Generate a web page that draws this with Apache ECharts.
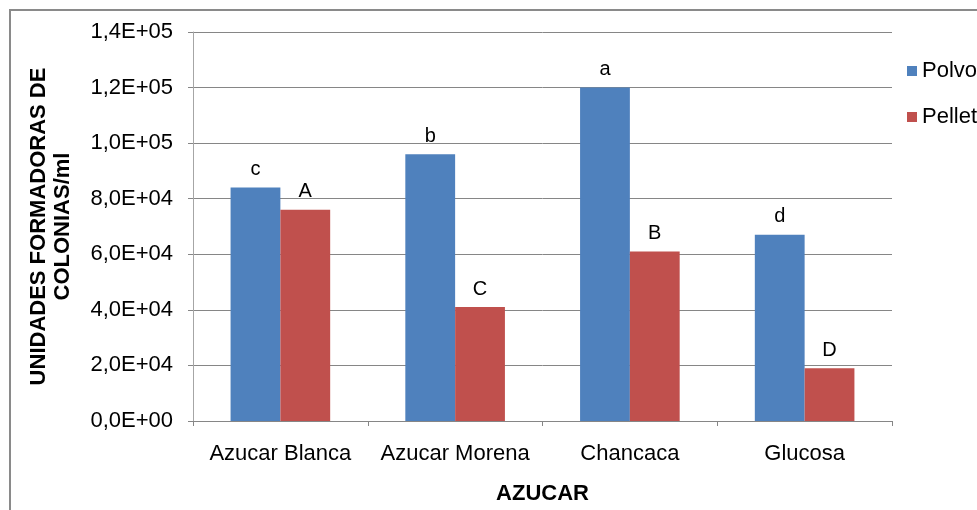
<!DOCTYPE html>
<html>
<head>
<meta charset="utf-8">
<script src="https://cdn.jsdelivr.net/npm/echarts@6/dist/echarts.min.js"></script>
<style>
html,body{margin:0;padding:0;background:#fff;}
#chart{width:977px;height:510px;}
</style>
</head>
<body>
<div id="chart"></div>
<script>
var categories = ['Azucar Blanca', 'Azucar Morena', 'Chancaca', 'Glucosa'];
var polvoValues = [84000, 96000, 120000, 67000];
var pelletValues = [76000, 41000, 61000, 19000];
var polvoLetters = ['c', 'b', 'a', 'd'];
var pelletLetters = ['A', 'C', 'B', 'D'];
var seriesNames = ['Polvo', 'Pellet'];
var yAxisTitle = 'UNIDADES FORMADORAS DE\nCOLONIAS/ml';
var xAxisTitle = 'AZUCAR';

function fmt(v) {
  if (v === 0) return '0,0E+00';
  var e = Math.floor(Math.log10(v) + 1e-9);
  var m = v / Math.pow(10, e);
  var s = m.toFixed(1).replace('.', ',');
  return s + 'E+' + (e < 10 ? '0' : '') + e;
}

var FONT = '"Liberation Sans", Arial, sans-serif';
var chart = echarts.init(document.getElementById('chart'), null, {renderer: 'canvas'});
chart.setOption({
  animation: false,
  backgroundColor: '#ffffff',
  textStyle: {fontFamily: FONT, color: '#000'},
  graphic: [{
    type: 'rect',
    shape: {x: 10, y: 10, width: 1000, height: 540},
    style: {fill: 'none', stroke: '#8a8a8a', lineWidth: 2},
    silent: true,
    z: -10
  }],
  legend: {
    orient: 'vertical',
    left: 902,
    top: 55,
    itemWidth: 10,
    itemHeight: 10,
    itemGap: 24,
    icon: 'rect',
    data: seriesNames,
    textStyle: {fontSize: 22, color: '#000', fontFamily: FONT}
  },
  grid: {left: 193, top: 32, width: 699, height: 392, containLabel: false},
  xAxis: {
    type: 'category',
    data: categories,
    name: xAxisTitle,
    nameLocation: 'middle',
    nameGap: 62,
    nameTextStyle: {fontSize: 22, fontWeight: 'bold', color: '#000', fontFamily: FONT},
    axisLine: {show: true, lineStyle: {color: '#868686', width: 1}},
    axisTick: {show: true, alignWithLabel: false, length: 5, lineStyle: {color: '#868686'}},
    axisLabel: {fontSize: 22, color: '#000', margin: 22, fontFamily: FONT, interval: 0},
    splitLine: {show: false}
  },
  yAxis: {
    type: 'value',
    min: 0,
    max: 140000,
    interval: 20000,
    name: yAxisTitle,
    nameLocation: 'middle',
    nameRotate: 90,
    nameGap: 118,
    nameTextStyle: {fontSize: 22, fontWeight: 'bold', color: '#000', fontFamily: FONT, lineHeight: 24, align: 'center'},
    axisLine: {show: true, lineStyle: {color: '#a6a6a6', width: 1}},
    axisTick: {show: true, length: 5, lineStyle: {color: '#868686'}},
    axisLabel: {fontSize: 22, color: '#000', margin: 20, fontFamily: FONT, formatter: fmt},
    splitLine: {show: true, lineStyle: {color: '#868686', width: 1}}
  },
  series: [{
    name: seriesNames[0],
    type: 'bar',
    data: polvoValues,
    barGap: '0%',
    barCategoryGap: '43%',
    itemStyle: {color: '#4F81BD'},
    label: {
      show: true, position: 'top', distance: 8,
      fontSize: 20, color: '#000', fontFamily: FONT,
      formatter: function (p) { return polvoLetters[p.dataIndex]; }
    }
  }, {
    name: seriesNames[1],
    type: 'bar',
    data: pelletValues,
    barGap: '0%',
    barCategoryGap: '43%',
    itemStyle: {color: '#C0504D'},
    label: {
      show: true, position: 'top', distance: 8,
      fontSize: 20, color: '#000', fontFamily: FONT,
      formatter: function (p) { return pelletLetters[p.dataIndex]; }
    }
  }]
});
</script>
</body>
</html>
